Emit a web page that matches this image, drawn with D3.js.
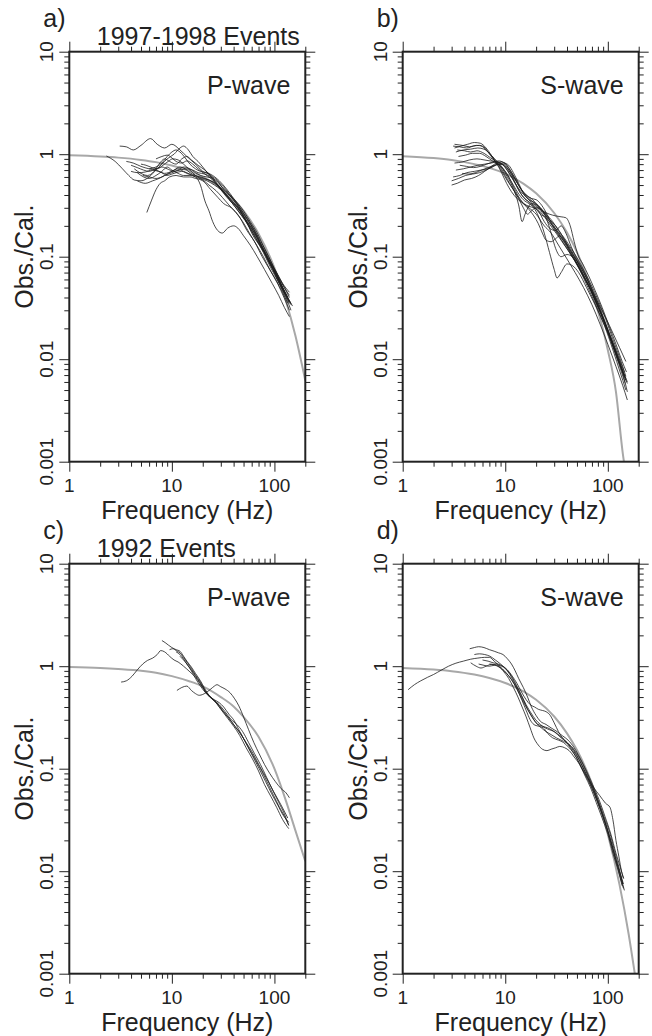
<!DOCTYPE html>
<html>
<head>
<meta charset="utf-8">
<script src="https://cdn.jsdelivr.net/npm/d3@7"></script>
<style>
  body { margin: 0; background: #fff; }
  svg { display: block; font-family: "Liberation Sans", Arial, Helvetica, sans-serif; }
  .frame { fill: none; stroke: #222; stroke-width: 2; }
  .tick line { stroke: #222; stroke-width: 1; }
  .obs { fill: none; stroke: #1c1c1c; stroke-width: 0.8; }
  .model { fill: none; stroke: #a8a8a8; stroke-width: 2; }
</style>
</head>
<body>
<div id="chart"></div>
<script>
const panelLetters = ["a)", "b)", "c)", "d)"];
const waveLabels = ["P-wave", "S-wave", "P-wave", "S-wave"];
const eventTitles = ["1997-1998 Events", "", "1992 Events", ""];
const freqTickLabels = ["1", "10", "100"];
const ratioTickLabels = ["0.001", "0.01", "0.1", "1", "10"];
const xTitle = "Frequency (Hz)";
const yTitle = "Obs./Cal.";

// grey curves (calculated spectra), [frequency, ratio]
const modelP9798 = [[1,0.975],[2,0.95],[3,0.926],[5,0.88],[7,0.837],[10,0.775],[15,0.683],[20,0.6],[30,0.466],[40,0.361],[50,0.28],[70,0.168],[100,0.078],[130,0.0366],[160,0.017],[200,0.0062]];
const modelS9798 = [[1,0.957],[2,0.916],[3,0.876],[5,0.8],[7,0.735],[10,0.645],[15,0.517],[20,0.415],[30,0.267],[40,0.172],[50,0.111],[70,0.046],[100,0.0123],[120,0.0048],[140,0.0012],[150,0.00075]];
const modelP92 = [[1,0.98],[2,0.96],[3,0.94],[5,0.905],[7,0.865],[10,0.8],[15,0.71],[20,0.635],[30,0.5],[40,0.405],[50,0.32],[70,0.205],[100,0.1],[130,0.048],[160,0.025],[200,0.0125]];
const modelS92 = [[1,0.963],[2,0.927],[3,0.893],[5,0.828],[7,0.768],[10,0.686],[15,0.568],[20,0.47],[30,0.323],[40,0.221],[50,0.152],[70,0.0714],[100,0.023],[130,0.0074],[160,0.0024],[185,0.00094]];

// black curves (observed / calculated ratios)
const obsP9798 = [
  [[3.1,1.2],[3.6,1.18],[4.2,1.1],[5,1.22],[6.2,1.42],[7.2,1.25],[8.5,1.15],[10,1.25],[12,1.1],[14,0.95],[17,0.8],[20,0.68],[24,0.62],[28,0.5],[34,0.4],[40,0.33],[48,0.26],[56,0.2],[66,0.15],[80,0.11],[95,0.08],[110,0.062],[125,0.05],[140,0.042]],
  [[2.3,0.96],[2.8,0.85],[3.3,0.72],[3.8,0.62],[4.3,0.56],[5,0.55],[6,0.6],[7,0.7],[8,0.8],[9,0.9],[10.5,1.0],[12,1.15],[13,1.2],[14.5,1.1],[16,0.95],[18,0.85],[20,0.75],[24,0.6],[30,0.45],[36,0.36],[44,0.3],[52,0.23],[62,0.16],[75,0.12],[90,0.085],[105,0.065],[120,0.05],[140,0.035]],
  [[5.7,0.27],[6.3,0.35],[7,0.45],[7.7,0.52],[8.5,0.55],[9.5,0.6],[11,0.62],[13,0.6],[15,0.6],[17,0.58],[20,0.55],[24,0.45],[28,0.38],[32,0.33],[38,0.3],[45,0.25],[54,0.18],[64,0.14],[76,0.1],[90,0.075],[105,0.058],[120,0.045],[135,0.035]],
  [[4.3,0.72],[5,0.65],[5.8,0.62],[6.7,0.68],[7.5,0.8],[8.5,0.9],[9.5,0.85],[11,0.8],[12.5,0.9],[14,0.95],[15.5,0.88],[18,0.78],[21,0.7],[24,0.62],[28,0.55],[32,0.45],[38,0.38],[45,0.3],[54,0.22],[64,0.17],[76,0.125],[90,0.09],[105,0.07],[120,0.055],[140,0.045]],
  [[4.6,0.66],[5.3,0.6],[6,0.58],[7,0.62],[8,0.68],[9,0.75],[10,0.7],[11.5,0.65],[13,0.62],[15,0.62],[17,0.6],[19,0.5],[21,0.35],[23,0.28],[25,0.22],[28,0.18],[31,0.17],[35,0.19],[40,0.2],[44,0.19],[50,0.16],[58,0.13],[68,0.1],[80,0.075],[95,0.055],[110,0.042],[125,0.032],[140,0.026]],
  [[4.0,0.78],[4.6,0.74],[5.3,0.7],[6,0.68],[7,0.72],[8,0.75],[9,0.72],[10.5,0.68],[12,0.7],[14,0.72],[16,0.7],[18,0.66],[21,0.64],[24,0.6],[28,0.52],[33,0.45],[38,0.38],[44,0.32],[52,0.25],[62,0.19],[74,0.14],[88,0.1],[100,0.075],[115,0.055],[130,0.043],[145,0.034]],
  [[4.6,0.55],[5.5,0.52],[6.5,0.55],[7.5,0.58],[8.5,0.62],[10,0.66],[11.5,0.7],[13,0.75],[15,0.72],[17,0.66],[19,0.62],[22,0.6],[25,0.58],[28,0.54],[32,0.48],[37,0.4],[43,0.34],[50,0.28],[58,0.22],[68,0.17],[80,0.12],[95,0.085],[110,0.064],[125,0.05],[140,0.04]],
  [[5,0.8],[5.6,0.78],[6.4,0.74],[7.2,0.72],[8.2,0.78],[9.2,0.85],[10.2,0.9],[11.5,0.88],[13,0.8],[15,0.7],[17,0.62],[19,0.58],[22,0.55],[26,0.5],[30,0.45],[35,0.38],[40,0.32],[47,0.26],[55,0.21],[65,0.16],[76,0.12],[90,0.088],[105,0.066],[120,0.05],[135,0.04]],
  [[3.6,0.85],[4.2,0.82],[5,0.76],[6,0.72],[7,0.7],[8,0.66],[9,0.62],[10,0.64],[11,0.66],[12.5,0.68],[14.5,0.64],[16.5,0.62],[19,0.6],[22,0.57],[26,0.52],[30,0.46],[35,0.38],[41,0.31],[48,0.25],[56,0.2],[66,0.15],[78,0.11],[92,0.078],[108,0.058],[125,0.044],[140,0.036]],
  [[5.2,0.62],[6,0.6],[7,0.58],[8,0.6],[9,0.64],[10.5,0.7],[12,0.75],[13.5,0.72],[15,0.66],[17,0.62],[20,0.58],[23,0.56],[26,0.53],[30,0.47],[34,0.4],[40,0.34],[46,0.29],[54,0.23],[63,0.18],[74,0.13],[86,0.095],[100,0.07],[115,0.052],[130,0.04],[145,0.03]],
  [[6,0.72],[7,0.75],[8,0.82],[9,0.95],[10,1.05],[11,1.1],[12,1.05],[13.5,0.92],[15,0.8],[17,0.72],[19,0.68],[22,0.66],[25,0.62],[29,0.55],[34,0.46],[40,0.37],[47,0.29],[55,0.23],[64,0.18],[75,0.13],[88,0.095],[102,0.07],[118,0.052],[135,0.04],[150,0.033]],
  [[7,0.9],[8,0.95],[9,0.98],[10,0.92],[11,0.85],[12.5,0.82],[14,0.86],[16,0.8],[18,0.72],[21,0.64],[24,0.58],[28,0.5],[33,0.42],[38,0.36],[44,0.3],[51,0.24],[60,0.19],[70,0.145],[82,0.105],[96,0.075],[112,0.055],[128,0.043],[145,0.035]],
  [[4,0.68],[4.7,0.66],[5.5,0.67],[6.4,0.7],[7.4,0.68],[8.5,0.65],[10,0.68],[11.5,0.72],[13,0.68],[15,0.64],[17,0.6],[20,0.56],[23,0.5],[27,0.44],[31,0.38],[36,0.32],[42,0.27],[49,0.22],[57,0.17],[67,0.13],[78,0.1],[92,0.072],[108,0.054],[124,0.04],[140,0.03]]
];

const obsS9798 = [
  [[3.2,1.15],[3.7,1.2],[4.3,1.25],[5,1.3],[5.7,1.28],[6.5,1.15],[7.3,0.98],[8.2,0.82],[9.2,0.66],[10.3,0.52],[11.5,0.43],[13,0.37],[15,0.33],[17,0.3],[20,0.26],[24,0.2],[28,0.17],[33,0.13],[40,0.095],[48,0.07],[58,0.05],[70,0.034],[84,0.022],[100,0.014],[120,0.0085],[140,0.0055],[155,0.004]],
  [[3.2,1.25],[3.8,1.22],[4.5,1.18],[5.2,1.22],[6,1.2],[6.8,1.05],[7.6,0.9],[8.5,0.78],[9.5,0.65],[10.5,0.55],[12,0.45],[13.5,0.37],[15,0.3],[16.5,0.26],[18,0.28],[20,0.3],[23,0.28],[27,0.22],[32,0.17],[38,0.13],[45,0.1],[54,0.072],[64,0.05],[76,0.034],[90,0.023],[105,0.015],[122,0.0095],[140,0.0062],[150,0.005]],
  [[3.4,1.1],[4,1.08],[4.6,1.05],[5.3,1.08],[6.2,1.02],[7.2,0.92],[8.2,0.84],[9.2,0.74],[10.5,0.6],[12,0.46],[13.5,0.32],[14.6,0.22],[15.6,0.26],[16.6,0.3],[18,0.33],[20,0.32],[23,0.27],[27,0.23],[31,0.2],[36,0.16],[42,0.12],[50,0.09],[60,0.062],[72,0.042],[86,0.028],[100,0.019],[118,0.012],[135,0.0082],[150,0.0065]],
  [[3,0.5],[3.4,0.52],[4,0.56],[4.7,0.58],[5.5,0.62],[6.3,0.68],[7.2,0.75],[8.2,0.82],[9.2,0.84],[10.2,0.8],[11.2,0.7],[12.5,0.58],[14,0.47],[16,0.4],[18.5,0.36],[21,0.31],[24,0.27],[28,0.22],[33,0.17],[39,0.13],[46,0.1],[55,0.072],[65,0.052],[78,0.035],[92,0.024],[108,0.016],[125,0.011],[145,0.0075]],
  [[3.1,0.6],[3.6,0.62],[4.2,0.66],[5,0.68],[5.8,0.7],[6.7,0.72],[7.6,0.76],[8.6,0.8],[9.7,0.82],[10.8,0.78],[12,0.66],[13.5,0.52],[15,0.42],[17,0.36],[19,0.34],[22,0.3],[25,0.24],[28,0.17],[31,0.12],[35,0.1],[40,0.105],[45,0.1],[52,0.08],[60,0.06],[70,0.046],[82,0.034],[96,0.025],[112,0.018],[130,0.013],[150,0.0095]],
  [[3.3,0.7],[3.9,0.72],[4.6,0.75],[5.4,0.78],[6.3,0.8],[7.3,0.82],[8.3,0.84],[9.3,0.8],[10.5,0.7],[12,0.56],[13.5,0.45],[15,0.38],[17,0.34],[19,0.3],[21,0.25],[24,0.17],[27,0.11],[30,0.075],[32,0.062],[35,0.07],[40,0.085],[45,0.082],[52,0.07],[62,0.05],[72,0.037],[85,0.026],[100,0.018],[118,0.012],[135,0.0082],[150,0.0062]],
  [[3.2,0.82],[3.8,0.84],[4.5,0.88],[5.3,0.9],[6.2,0.88],[7.1,0.86],[8,0.85],[9,0.82],[10,0.74],[11,0.64],[12.5,0.52],[14,0.44],[16,0.38],[18,0.34],[20,0.31],[23,0.28],[27,0.26],[31,0.25],[35,0.245],[39,0.24],[43,0.2],[47,0.14],[51,0.105],[57,0.085],[65,0.065],[75,0.047],[88,0.032],[103,0.021],[120,0.014],[138,0.0095],[152,0.0075]],
  [[3.5,0.95],[4.1,0.98],[4.8,1.02],[5.6,1.02],[6.5,0.95],[7.5,0.86],[8.5,0.8],[9.5,0.72],[10.6,0.62],[11.8,0.5],[13.2,0.4],[15,0.33],[17,0.29],[19,0.25],[21,0.21],[23,0.17],[25,0.145],[28,0.14],[31,0.15],[34,0.16],[38,0.14],[43,0.11],[50,0.085],[58,0.065],[68,0.047],[80,0.033],[94,0.022],[110,0.015],[128,0.0098],[145,0.0068]],
  [[3,0.55],[3.5,0.58],[4.1,0.62],[4.8,0.64],[5.6,0.66],[6.5,0.7],[7.5,0.75],[8.5,0.8],[9.5,0.8],[10.6,0.72],[11.8,0.6],[13,0.48],[14.5,0.4],[16,0.36],[18,0.33],[20,0.3],[23,0.26],[26,0.22],[30,0.18],[35,0.145],[41,0.115],[48,0.09],[56,0.068],[66,0.05],[78,0.034],[92,0.023],[108,0.015],[126,0.01],[145,0.0068],[155,0.0058]],
  [[3.3,1.05],[3.9,1.1],[4.6,1.12],[5.4,1.15],[6.2,1.12],[7,1.02],[7.9,0.9],[8.8,0.8],[9.8,0.7],[10.8,0.6],[12,0.5],[13.3,0.42],[15,0.36],[17,0.33],[19.5,0.3],[22,0.26],[25,0.24],[28,0.21],[32,0.18],[37,0.15],[43,0.12],[50,0.092],[58,0.07],[68,0.05],[80,0.034],[94,0.022],[110,0.014],[128,0.009],[148,0.0058]],
  [[3.6,0.78],[4.2,0.76],[4.9,0.74],[5.7,0.76],[6.6,0.8],[7.6,0.84],[8.6,0.86],[9.6,0.83],[10.6,0.75],[11.6,0.65],[12.8,0.55],[14.2,0.46],[16,0.4],[18,0.37],[20,0.36],[22,0.33],[25,0.27],[29,0.2],[34,0.16],[40,0.13],[47,0.1],[55,0.078],[64,0.058],[75,0.042],[88,0.028],[103,0.018],[120,0.012],[140,0.0078],[155,0.006]],
  [[3.1,1.2],[3.6,1.18],[4.2,1.15],[4.9,1.2],[5.6,1.22],[6.4,1.12],[7.2,0.98],[8,0.86],[9,0.74],[10,0.62],[11,0.52],[12.2,0.44],[13.6,0.37],[15.2,0.33],[17,0.31],[19,0.3],[21,0.28],[24,0.22],[27,0.19],[31,0.18],[35,0.2],[39,0.17],[44,0.125],[50,0.095],[57,0.075],[66,0.055],[77,0.038],[90,0.025],[105,0.016],[122,0.0105],[140,0.0072],[155,0.0048]],
  [[3.8,0.65],[4.4,0.64],[5.1,0.66],[5.9,0.7],[6.8,0.74],[7.8,0.78],[8.8,0.8],[9.8,0.78],[10.8,0.7],[12,0.6],[13.4,0.5],[15,0.42],[17,0.37],[19.5,0.33],[22,0.3],[25,0.26],[29,0.22],[33,0.18],[38,0.15],[44,0.12],[51,0.095],[59,0.072],[69,0.053],[81,0.037],[95,0.025],[111,0.016],[130,0.0105],[150,0.0068]]
];

const obsP92 = [
  [[3.2,0.7],[3.6,0.72],[4.1,0.8],[4.6,0.92],[5.2,1.05],[5.8,1.14],[6.5,1.2],[7.2,1.3],[7.8,1.42],[8.5,1.38],[9.5,1.25],[10.5,1.15],[11.5,1.1],[13,1.0],[15,0.88],[17,0.78],[20,0.62],[23,0.52],[27,0.45],[32,0.36],[38,0.29],[45,0.23],[53,0.18],[62,0.14],[72,0.105],[84,0.08],[98,0.06],[115,0.045],[135,0.033]],
  [[8,1.78],[8.6,1.7],[9.3,1.6],[10,1.52],[11,1.45],[12,1.4],[13,1.25],[14,1.12],[15.5,0.98],[17,0.85],[19,0.72],[21,0.6],[23,0.52],[26,0.46],[30,0.38],[35,0.31],[40,0.26],[46,0.21],[53,0.16],[61,0.125],[70,0.095],[80,0.07],[92,0.054],[105,0.042],[120,0.032],[138,0.026]],
  [[9.5,1.45],[10.2,1.48],[11,1.42],[12,1.35],[13,1.22],[14,1.1],[15.5,0.95],[17,0.82],[19,0.7],[21,0.58],[23.5,0.5],[27,0.44],[31,0.37],[36,0.31],[41,0.26],[47,0.22],[54,0.17],[62,0.13],[71,0.1],[82,0.075],[94,0.057],[108,0.044],[122,0.035],[138,0.03]],
  [[11,1.38],[12,1.3],[13,1.18],[14,1.05],[15.5,0.92],[17,0.8],[19,0.68],[21,0.57],[23.5,0.5],[26,0.46],[29,0.42],[33,0.36],[38,0.3],[43,0.27],[49,0.23],[56,0.18],[64,0.14],[73,0.11],[84,0.082],[96,0.062],[110,0.047],[124,0.037],[138,0.028]],
  [[11.2,0.58],[12.5,0.62],[14,0.64],[15.5,0.58],[17,0.54],[18.5,0.52],[20,0.53],[22,0.56],[24,0.6],[26,0.64],[27.5,0.66],[30,0.63],[33,0.6],[37,0.55],[41,0.48],[45,0.41],[50,0.32],[56,0.24],[63,0.18],[71,0.14],[80,0.11],[90,0.09],[102,0.075],[116,0.064],[130,0.058],[140,0.052]],
  [[12,1.25],[13,1.15],[14,1.05],[15.5,0.9],[17,0.76],[19,0.64],[21,0.56],[23.5,0.5],[26,0.47],[29,0.44],[32,0.4],[36,0.34],[40,0.3],[45,0.24],[51,0.19],[58,0.15],[66,0.12],[75,0.095],[86,0.072],[98,0.055],[112,0.042],[126,0.034],[138,0.028]]
];

const obsS92 = [
  [[1.13,0.59],[1.3,0.66],[1.5,0.72],[1.75,0.78],[2,0.83],[2.4,0.92],[2.8,1.0],[3.3,1.07],[3.9,1.12],[4.6,1.17],[5.4,1.2],[6.3,1.22],[7,1.22],[7.8,1.12],[8.8,1.0],[10,0.88],[11.5,0.74],[13,0.6],[14.5,0.48],[16,0.4],[18,0.33],[20,0.28],[23,0.26],[26,0.25],[30,0.23],[35,0.2],[40,0.18],[46,0.15],[53,0.12],[61,0.09],[70,0.068],[80,0.05],[92,0.034],[104,0.024],[116,0.016],[128,0.011],[140,0.0075]],
  [[4.5,1.48],[5,1.52],[5.5,1.55],[6.2,1.52],[7,1.45],[7.8,1.4],[8.6,1.35],[9.5,1.3],[10.5,1.18],[11.5,1.05],[12.5,0.9],[13.5,0.76],[15,0.62],[16.5,0.5],[18,0.4],[20,0.33],[22,0.29],[25,0.27],[28,0.25],[32,0.23],[36,0.21],[41,0.19],[47,0.16],[54,0.125],[62,0.095],[71,0.07],[82,0.05],[94,0.034],[107,0.023],[120,0.015],[132,0.011],[142,0.0085]],
  [[4.6,1.08],[5.2,1.0],[5.8,0.96],[6.5,1.0],[7.3,1.04],[8.2,1.02],[9.2,0.95],[10.3,0.85],[11.5,0.74],[13,0.6],[14.5,0.47],[16,0.37],[17.5,0.3],[19,0.27],[21,0.26],[23.5,0.25],[26,0.22],[29,0.2],[33,0.19],[37,0.18],[42,0.16],[48,0.135],[55,0.105],[63,0.08],[72,0.06],[82,0.043],[94,0.03],[107,0.02],[120,0.013],[133,0.009],[145,0.0065]],
  [[5.5,1.05],[6.2,1.02],[7,1.0],[7.8,1.02],[8.7,0.98],[9.7,0.88],[10.8,0.76],[12,0.62],[13.3,0.5],[14.6,0.4],[16,0.32],[17.5,0.25],[19,0.2],[21,0.17],[23,0.155],[25.5,0.15],[28,0.155],[31,0.16],[34,0.165],[38,0.16],[42,0.15],[47,0.13],[53,0.11],[60,0.085],[68,0.065],[77,0.047],[88,0.033],[100,0.023],[112,0.015],[125,0.0105],[138,0.0072]],
  [[6,1.15],[6.8,1.12],[7.6,1.08],[8.5,1.05],[9.5,1.0],[10.5,0.92],[11.7,0.8],[13,0.68],[14.4,0.56],[16,0.47],[17.6,0.42],[19.3,0.4],[21,0.38],[23,0.37],[25,0.36],[27.5,0.33],[30,0.28],[33,0.23],[36,0.2],[40,0.18],[45,0.16],[51,0.13],[58,0.1],[66,0.075],[75,0.055],[85,0.04],[96,0.028],[108,0.019],[120,0.013],[132,0.0095],[142,0.0075]],
  [[7,1.05],[7.8,1.04],[8.7,1.02],[9.6,0.98],[10.6,0.9],[11.7,0.78],[13,0.64],[14.4,0.52],[16,0.42],[17.8,0.35],[19.8,0.3],[22,0.27],[24.5,0.25],[27,0.24],[30,0.23],[34,0.21],[38,0.19],[43,0.16],[49,0.13],[56,0.1],[64,0.08],[73,0.065],[83,0.055],[95,0.046],[105,0.042],[112,0.032],[120,0.02],[128,0.014],[136,0.01],[143,0.0085]],
  [[5,1.3],[5.6,1.32],[6.3,1.3],[7.1,1.25],[8,1.15],[9,1.05],[10,0.95],[11,0.84],[12.2,0.7],[13.5,0.58],[15,0.47],[16.5,0.38],[18.2,0.32],[20,0.28],[22.5,0.25],[25,0.23],[28,0.215],[31.5,0.2],[35,0.19],[39,0.18],[44,0.165],[50,0.14],[57,0.11],[65,0.082],[74,0.06],[84,0.042],[95,0.029],[107,0.019],[119,0.013],[131,0.009],[142,0.0068]]
];

const width = 652;
const height = 1036;
const plotW = 236;
const plotH = 410;
const origins = [[69.3, 51.7], [402.7, 51.7], [69.3, 563.7], [402.7, 563.7]];
const majorLen = 10;
const minorLen = 5;

const svg = d3
  .select("#chart")
  .append("svg")
  .attr("width", width)
  .attr("height", height);

function isDecade(v) {
  const l = Math.log10(v);
  return Math.abs(l - Math.round(l)) < 1e-9;
}

function addAxis(g, axis, transform, values, size, labelled) {
  const a = g
    .append("g")
    .attr("transform", transform)
    .call(axis.tickValues(values).tickSize(size).tickFormat(labelled ? null : ""));
  a.select(".domain").remove();
  a.selectAll("text").remove();
  return a;
}

function drawPanel(i, obs, model) {
  const [ox, oy] = origins[i];
  const g = svg.append("g").attr("transform", `translate(${ox},${oy})`);

  const x = d3.scaleLog().domain([1, 200]).range([0, plotW]);
  const y = d3.scaleLog().domain([0.001, 10]).range([plotH, 0]);

  const majorX = freqTickLabels.map(Number);
  const majorY = ratioTickLabels.map(Number);
  const minorX = x.ticks().filter((v) => !isDecade(v));
  const minorY = y.ticks().filter((v) => !isDecade(v));

  // ticks on all four sides, pointing outward
  addAxis(g, d3.axisBottom(x), `translate(0,${plotH})`, minorX, minorLen);
  addAxis(g, d3.axisBottom(x), `translate(0,${plotH})`, majorX, majorLen);
  addAxis(g, d3.axisTop(x), "translate(0,0)", minorX, minorLen);
  addAxis(g, d3.axisTop(x), "translate(0,0)", majorX, majorLen);
  addAxis(g, d3.axisLeft(y), "translate(0,0)", minorY, minorLen);
  addAxis(g, d3.axisLeft(y), "translate(0,0)", majorY, majorLen);
  addAxis(g, d3.axisRight(y), `translate(${plotW},0)`, minorY, minorLen);
  addAxis(g, d3.axisRight(y), `translate(${plotW},0)`, majorY, majorLen);

  // tick labels
  g.selectAll(".xlab")
    .data(freqTickLabels)
    .enter()
    .append("text")
    .attr("x", (d) => x(+d))
    .attr("y", plotH + 30)
    .attr("text-anchor", "middle")
    .style("font-size", "19px")
    .attr("fill", "#222")
    .text((d) => d);

  g.selectAll(".ylab")
    .data(ratioTickLabels)
    .enter()
    .append("text")
    .attr("transform", (d) => `translate(-16,${y(+d)}) rotate(-90)`)
    .attr("text-anchor", "middle")
    .style("font-size", "19px")
    .attr("fill", "#222")
    .text((d) => d);

  // curves
  g.append("clipPath")
    .attr("id", "clip" + i)
    .append("rect")
    .attr("width", plotW)
    .attr("height", plotH);

  const line = d3
    .line()
    .x((d) => x(d[0]))
    .y((d) => y(d[1]))
    .curve(d3.curveMonotoneX);

  const plot = g.append("g").attr("clip-path", `url(#clip${i})`);
  plot.append("path").attr("class", "model").attr("d", line(model));
  plot
    .selectAll(".obs")
    .data(obs)
    .enter()
    .append("path")
    .attr("class", "obs")
    .attr("d", line);

  g.append("rect")
    .attr("class", "frame")
    .attr("width", plotW)
    .attr("height", plotH);

  // titles
  g.append("text")
    .attr("x", plotW / 2)
    .attr("y", plotH + 57)
    .attr("text-anchor", "middle")
    .style("font-size", "25px")
    .attr("fill", "#222")
    .text(xTitle);

  g.append("text")
    .attr("transform", `translate(-36,${plotH / 2}) rotate(-90)`)
    .attr("text-anchor", "middle")
    .style("font-size", "25px")
    .attr("fill", "#222")
    .text(yTitle);

  g.append("text")
    .attr("x", -26)
    .attr("y", -25)
    .style("font-size", "25px")
    .attr("fill", "#222")
    .text(panelLetters[i]);

  if (eventTitles[i]) {
    g.append("text")
      .attr("x", 27.5)
      .attr("y", -7)
      .style("font-size", "25px")
      .attr("fill", "#222")
      .text(eventTitles[i]);
  }

  g.append("text")
    .attr("x", 221)
    .attr("y", 42.6)
    .attr("text-anchor", "end")
    .style("font-size", "25px")
    .attr("fill", "#222")
    .text(waveLabels[i]);
}

drawPanel(0, obsP9798, modelP9798);
drawPanel(1, obsS9798, modelS9798);
drawPanel(2, obsP92, modelP92);
drawPanel(3, obsS92, modelS92);
</script>
</body>
</html>
